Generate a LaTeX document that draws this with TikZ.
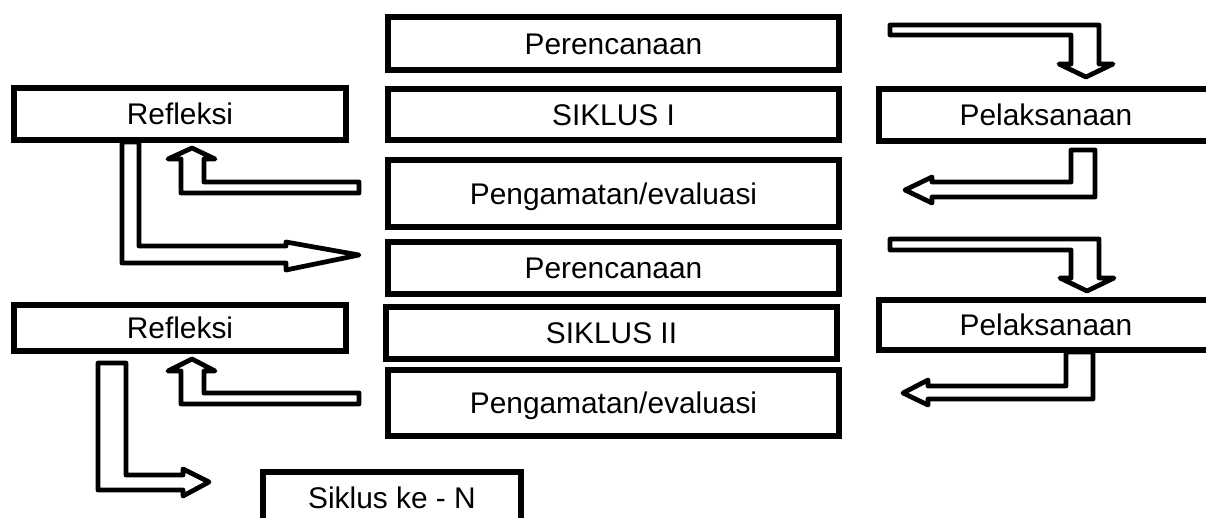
\documentclass[tikz,border=0pt]{standalone}
\usepackage{fontspec}
\setmainfont{Liberation Sans}
\tikzset{
  kotak/.style 2 args={draw, line width=0.11cm, inner sep=0pt, outer sep=0pt,
    minimum width=#1*0.02cm, minimum height=#2*0.02cm,
    text height=12.2pt, text depth=0pt, font=\fontsize{17}{19}\selectfont},
  panah/.style={draw, line width=0.095cm, line join=round, fill=white}
}

\begin{document}
\begin{tikzpicture}[x=0.02cm, y=-0.02cm]
			%%%%% START %%%%%
			\useasboundingbox (0, 0) rectangle (1206, 517);
			
			% siklus I
			\node[kotak={451}{53}] (per1) at (613.5, 43.5) {Perencanaan};
			\node[kotak={451}{51}] (sik1) at (613.5, 114.5) {SIKLUS I};
			\node[kotak={451}{67}] (pen1) at (613.5, 193.5) {Pengamatan/evaluasi};
			\node[kotak={332}{52}] (ref1) at (180, 114) {Refleksi};
			\node[kotak={334}{52}] (pel1) at (1046, 115) {Pelaksanaan};
			
			% siklus II
			\node[kotak={451}{52}] (per2) at (613.5, 268) {Perencanaan};
			\node[kotak={451}{52}] (sik2) at (611.5, 333) {SIKLUS II};
			\node[kotak={451}{66}] (pen2) at (613.5, 403) {Pengamatan/evaluasi};
			\node[kotak={332}{46}] (ref2) at (180, 328) {Refleksi};
			\node[kotak={334}{50}] (pel2) at (1046, 325) {Pelaksanaan};
			
			\node[kotak={258}{52}] (sikN) at (392, 498) {Siklus ke - N};
			
			% panah kanan
			\draw[panah] (890, 25) -- (1099, 25) -- (1099, 64) -- (1113, 64) -- (1086, 77)
			  -- (1059, 64) -- (1071, 64) -- (1071, 35) -- (890, 35) -- cycle;
			\draw[panah] (1095, 150) -- (1095, 197) -- (932, 197) -- (932, 203) -- (905, 190)
			  -- (932, 177) -- (932, 182) -- (1071, 182) -- (1071, 150) -- cycle;
			\draw[panah] (890, 239) -- (1099, 239) -- (1099, 278) -- (1114, 278) -- (1087, 291)
			  -- (1060, 278) -- (1071, 278) -- (1071, 250) -- (890, 250) -- cycle;
			\draw[panah] (1093, 352) -- (1093, 399) -- (928, 399) -- (928, 405) -- (903, 393)
			  -- (928, 380) -- (928, 386) -- (1066, 386) -- (1066, 352) -- cycle;
			
			% panah kiri
			\draw[panah] (359, 182) -- (359, 193) -- (181, 193) -- (181, 159) -- (168, 159)
			  -- (192, 148) -- (215, 159) -- (204, 159) -- (204, 182) -- cycle;
			\draw[panah] (122, 142) -- (122, 263) -- (286, 263) -- (286, 270) -- (359, 255)
			  -- (286, 242) -- (286, 246) -- (139, 246) -- (139, 142) -- cycle;
			\draw[panah] (359, 393) -- (359, 404) -- (181, 404) -- (181, 371) -- (168, 371)
			  -- (192, 359) -- (215, 371) -- (204, 371) -- (204, 393) -- cycle;
			\draw[panah] (98, 363) -- (98, 490) -- (183, 490) -- (183, 496) -- (209, 482)
			  -- (183, 469) -- (183, 475) -- (126, 475) -- (126, 363) -- cycle;
			
			%%%%% END %%%%%
\end{tikzpicture}
\end{document}
